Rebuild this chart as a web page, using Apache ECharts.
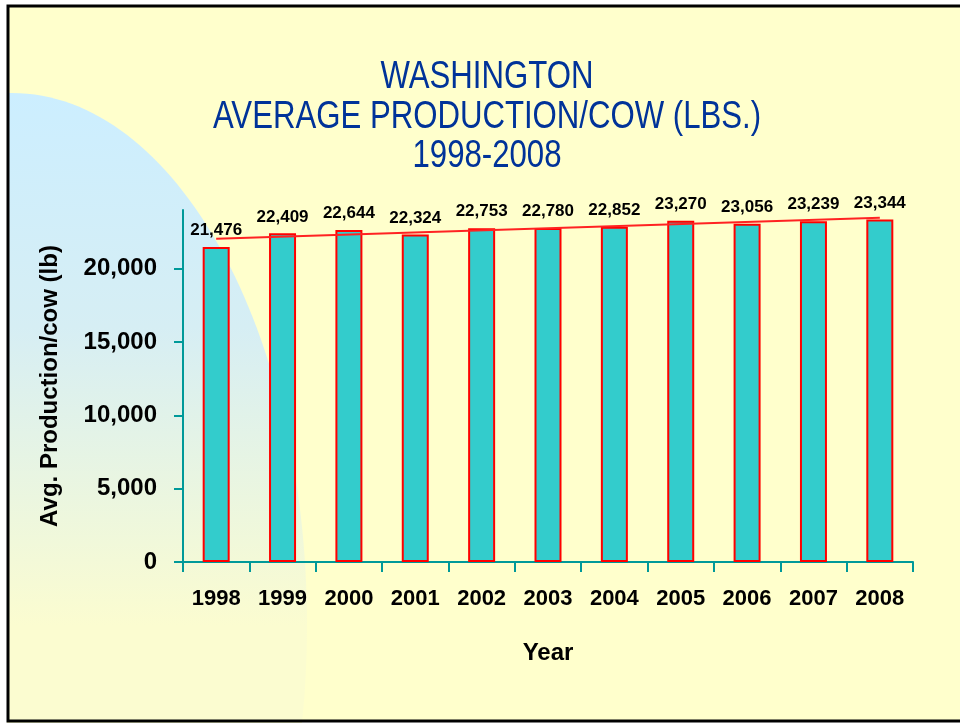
<!DOCTYPE html>
<html>
<head>
<meta charset="utf-8">
<script src="https://cdn.jsdelivr.net/npm/echarts@6/dist/echarts.min.js"></script>
<style>
  html, body { margin: 0; padding: 0; background: #fff; }
  #chart { width: 960px; height: 723px; }
</style>
</head>
<body>
<div id="chart"></div>
<script>
// data
var years = ['1998', '1999', '2000', '2001', '2002', '2003', '2004', '2005', '2006', '2007', '2008'];
var production = [21476, 22409, 22644, 22324, 22753, 22780, 22852, 23270, 23056, 23239, 23344];
// trend line end points (first / last year)
var trendYears = ['1998', '2008'];
var trendValues = [22040, 23470];
var yTicks = [0, 5000, 10000, 15000, 20000];
var titleLines = ['WASHINGTON', 'AVERAGE PRODUCTION/COW (LBS.)', '1998-2008'];

var font = "'Liberation Sans', Arial, sans-serif";

var chart = echarts.init(document.getElementById('chart'));

// title drawn as squeezed text, the original uses a narrow face
var titleGraphics = titleLines.map(function (t, i) {
    return {
        type: 'text', z: 40, silent: true,
        x: 487, y: 78 + i * 39.5,
        scaleX: 0.82,
        style: {
            text: t,
            fill: '#003399',
            font: 'normal 38px ' + font,
            textAlign: 'center',
            textVerticalAlign: 'middle'
        }
    };
});

var option = {
    backgroundColor: '#ffffff',
    animation: false,
    graphic: [
        // slide background
        { type: 'rect', z: -30, silent: true, shape: { x: 8, y: 6, width: 960, height: 715 }, style: { fill: '#FFFFCC' } },
        // pale blue swoosh on the left
        {
            type: 'ellipse', z: -20, silent: true,
            shape: { cx: 12, cy: 625, rx: 295, ry: 532 },
            style: {
                fill: new echarts.graphic.LinearGradient(0, 0, 0, 1, [
                    { offset: 0, color: '#CCEEFF' },
                    { offset: 0.22, color: '#D6EEF4' },
                    { offset: 0.5, color: '#FBFCD0' }
                ])
            }
        },
        { type: 'rect', z: 50, silent: true, shape: { x: 0, y: 0, width: 7, height: 723 }, style: { fill: '#ffffff' } },
        // frame
        { type: 'rect', z: 60, silent: true, shape: { x: 8, y: 6, width: 1000, height: 715 }, style: { fill: null, stroke: '#000000', lineWidth: 3 } }
    ].concat(titleGraphics),
    grid: {
        left: 183,
        right: 47,
        top: 210,
        bottom: 161
    },
    xAxis: {
        type: 'category',
        data: years,
        name: 'Year',
        nameLocation: 'middle',
        nameGap: 79,
        nameTextStyle: { color: '#000', fontFamily: font, fontWeight: 'bold', fontSize: 24 },
        axisLine: { lineStyle: { color: '#009999', width: 2 } },
        axisTick: { show: true, length: 10, lineStyle: { color: '#009999', width: 2 } },
        axisLabel: { color: '#000', fontFamily: font, fontWeight: 'bold', fontSize: 22, margin: 26, interval: 0 }
    },
    yAxis: {
        type: 'value',
        min: 0,
        max: 24000,
        interval: 5000,
        name: 'Avg. Production/cow (lb)',
        nameLocation: 'middle',
        nameGap: 121,
        nameRotate: 90,
        nameTextStyle: { color: '#000', fontFamily: font, fontWeight: 'bold', fontSize: 24 },
        splitLine: { show: false },
        axisLine: { show: true, lineStyle: { color: '#009999', width: 2 } },
        axisTick: { show: true, length: 9, customValues: yTicks, lineStyle: { color: '#009999', width: 2 } },
        axisLabel: {
            color: '#000', fontFamily: font, fontWeight: 'bold', fontSize: 24, margin: 26,
            customValues: yTicks,
            formatter: function (v) { return v.toLocaleString('en-US'); }
        }
    },
    series: [
        {
            name: 'Production',
            type: 'bar',
            data: production,
            barWidth: 27,
            itemStyle: { color: '#33CCCC', borderColor: '#FF0000', borderWidth: 2 },
            label: {
                show: true,
                position: 'top',
                distance: 8,
                color: '#000',
                fontFamily: font,
                fontWeight: 'bold',
                fontSize: 17,
                formatter: function (p) { return p.value.toLocaleString('en-US'); }
            }
        },
        {
            name: 'Trend',
            type: 'line',
            z: 5,
            data: [[trendYears[0], trendValues[0]], [trendYears[1], trendValues[1]]],
            symbol: 'none',
            lineStyle: { color: '#FF2222', width: 2 }
        }
    ]
};

chart.setOption(option);
</script>
</body>
</html>
